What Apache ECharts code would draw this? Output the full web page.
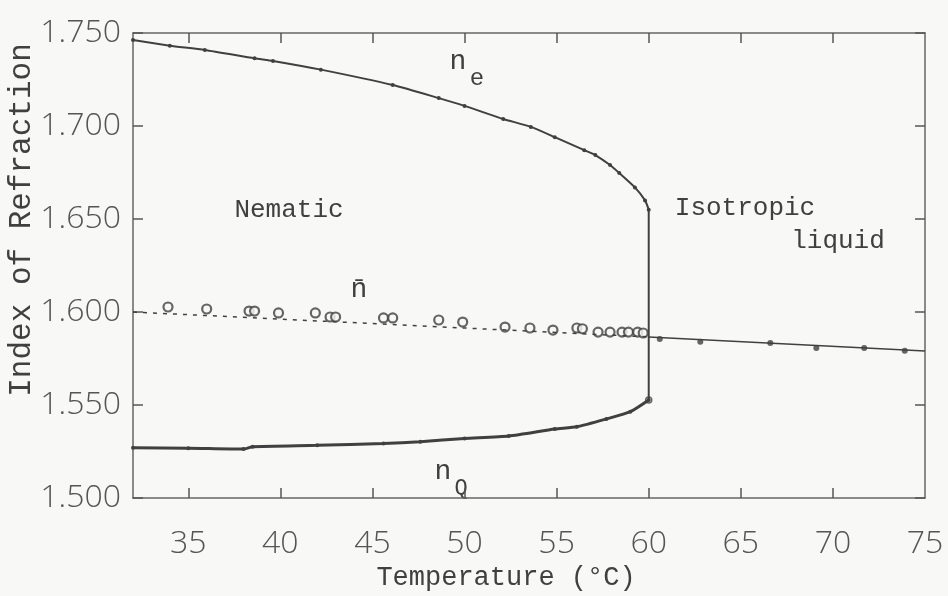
<!DOCTYPE html>
<html>
<head>
<meta charset="utf-8">
<title>Index of Refraction vs Temperature</title>
<script src="https://cdn.jsdelivr.net/npm/echarts@6/dist/echarts.min.js"></script>
<style>
  html, body { margin: 0; padding: 0; background: #f8f8f6; }
  #chart { width: 948px; height: 596px; }
</style>
</head>
<body>
<div id="chart"></div>
<script>
// extraordinary index n_e (nematic), [temperature, index]
var neData = [
  [32.0, 1.7462], [34.0, 1.7432], [35.9, 1.7409], [38.6, 1.7364], [39.6, 1.7350],
  [42.2, 1.7303], [46.1, 1.7220], [48.6, 1.7150], [50.0, 1.7108], [52.1, 1.7038],
  [53.6, 1.6995], [54.9, 1.6940], [56.5, 1.6870], [57.1, 1.6844], [57.9, 1.6790],
  [58.4, 1.6747], [59.25, 1.6670], [59.8, 1.6600], [60.0, 1.6550]
];
// ordinary index n_o
var noData = [
  [32.0, 1.5270], [35.0, 1.5268], [38.0, 1.5263], [38.5, 1.5276], [42.0, 1.5283],
  [45.6, 1.5293], [47.6, 1.5303], [50.0, 1.5320], [52.4, 1.5333], [54.9, 1.5371],
  [56.1, 1.5383], [57.7, 1.5425], [59.0, 1.5464], [60.0, 1.5527]
];
// vertical jump at the clearing point
var transitionLine = [[60.0, 1.6550], [60.0, 1.5527]];
// mean index n-bar in nematic phase (open circles)
var nbarPoints = [
  [33.9, 1.6027], [36.0, 1.6016], [38.3, 1.6005], [38.6, 1.6005], [39.9, 1.5995],
  [41.9, 1.5995], [42.7, 1.5973], [43.0, 1.5973], [45.6, 1.5968], [46.1, 1.5968],
  [48.6, 1.5957], [49.9, 1.5946], [52.2, 1.5919], [53.55, 1.5914], [54.8, 1.5903],
  [56.1, 1.5914], [56.4, 1.5910], [57.25, 1.5892], [57.9, 1.5892], [58.55, 1.5892],
  [58.9, 1.5892], [59.4, 1.5892], [59.7, 1.5887]
];
var nbarFit = [[32.0, 1.6000], [60.0, 1.5866]];
// isotropic liquid
var isoLine = [[60.0, 1.5866], [75.0, 1.5790]];
var isoPoints = [
  [60.6, 1.5855], [62.8, 1.5840], [66.6, 1.5833], [69.1, 1.5806], [71.7, 1.5806], [73.9, 1.5792]
];
// ticks
var xTicks = [35, 40, 45, 50, 55, 60, 65, 70];
var xLabels = [35, 40, 45, 50, 55, 60, 65, 70, 75];

var ink = "#404040";
var paper = "#f8f8f6";
var mono = "Liberation Mono";
var numFont = "Open Sans";

var chart = echarts.init(document.getElementById("chart"));

// tick marks point into the plot on every side
var tickStyle = { show: true, inside: true, length: 10, lineStyle: { color: "#555", width: 1.5 } };

function frameX(pos, showLabels) {
  return {
    type: "value",
    position: pos,
    min: 32,
    max: 75,
    splitLine: { show: false },
    axisLine: { show: true, lineStyle: { color: "#666", width: 1.5 } },
    axisTick: Object.assign({ customValues: xTicks }, tickStyle),
    axisLabel: showLabels ? {
      show: true,
      customValues: xLabels,
      margin: 30,
      color: "#555",
      fontFamily: numFont,
      fontWeight: 300,
      fontSize: 32
    } : { show: false }
  };
}

function frameY(pos, showLabels) {
  return {
    type: "value",
    position: pos,
    min: 1.5,
    max: 1.75,
    interval: 0.05,
    splitLine: { show: false },
    axisLine: { show: true, lineStyle: { color: "#666", width: 1.5 } },
    axisTick: Object.assign({}, tickStyle),
    axisLabel: showLabels ? {
      show: true,
      margin: 12,
      color: "#555",
      fontFamily: numFont,
      fontWeight: 300,
      fontSize: 32,
      formatter: function (v) { return v.toFixed(3); }
    } : { show: false }
  };
}

function label(text, x, y, size, extra) {
  var el = {
    type: "text",
    x: x,
    y: y,
    style: {
      text: text,
      fill: ink,
      font: size + "px '" + mono + "'",
      textAlign: "center",
      textVerticalAlign: "middle",
      align: "center",
      verticalAlign: "middle"
    }
  };
  if (extra) { for (var k in extra) el[k] = extra[k]; }
  return el;
}

chart.setOption({
  backgroundColor: paper,
  animation: false,
  grid: { left: 133, right: 23, top: 33, bottom: 98 },
  xAxis: [frameX("bottom", true), frameX("top", false)],
  yAxis: [frameY("left", true), frameY("right", false)],
  series: [
    {
      name: "n_e",
      type: "line",
      data: neData,
      smooth: 0.2,
      symbol: "circle",
      symbolSize: 4,
      lineStyle: { color: ink, width: 2 },
      itemStyle: { color: ink }
    },
    {
      name: "transition",
      type: "line",
      data: transitionLine,
      symbol: "none",
      lineStyle: { color: ink, width: 2 }
    },
    {
      name: "n_o",
      type: "line",
      data: noData,
      smooth: 0.2,
      symbol: "circle",
      symbolSize: 4,
      lineStyle: { color: ink, width: 3 },
      itemStyle: { color: ink }
    },
    {
      name: "n_o end",
      type: "scatter",
      data: [noData[noData.length - 1]],
      symbol: "circle",
      symbolSize: 6,
      itemStyle: { color: paper, borderColor: ink, borderWidth: 1.5 }
    },
    {
      name: "n-bar fit",
      type: "line",
      data: nbarFit,
      symbol: "none",
      lineStyle: { color: ink, width: 1.5, type: [4, 6] }
    },
    {
      name: "n-bar",
      type: "scatter",
      data: nbarPoints,
      symbol: "circle",
      symbolSize: 9,
      itemStyle: { color: paper, borderColor: ink, borderWidth: 2.2 }
    },
    {
      name: "isotropic",
      type: "line",
      data: isoLine,
      symbol: "none",
      lineStyle: { color: ink, width: 1.5 }
    },
    {
      name: "isotropic points",
      type: "scatter",
      data: isoPoints,
      symbol: "circle",
      symbolSize: 6,
      itemStyle: { color: ink }
    }
  ],
  graphic: [
    label("Index of Refraction", 22, 220, 31, { rotation: Math.PI / 2 }),
    label("Temperature (\u00b0C)", 506, 578, 27),
    label("Nematic", 289, 210, 26),
    label("Isotropic", 745, 208, 26),
    label("liquid", 838, 241, 26),
    label("n", 458, 62, 28),
    label("e", 477, 79, 24),
    label("n\u0304", 359, 290, 28),
    label("n", 443, 472, 28),
    label("Q", 461, 488, 22)
  ]
});

window.onresize = function () { chart.resize(); };
</script>
</body>
</html>
